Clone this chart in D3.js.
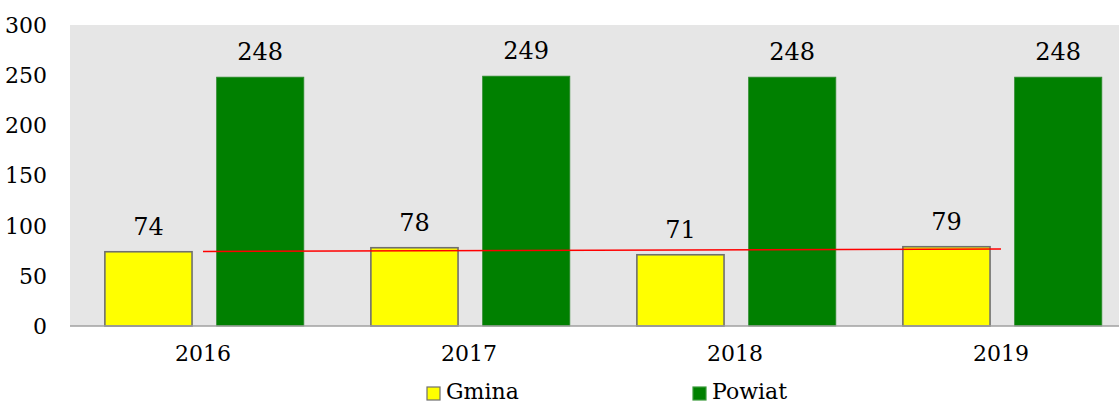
<!DOCTYPE html>
<html><head><meta charset="utf-8">
<script src="https://cdn.jsdelivr.net/npm/d3@7"></script>
<style>body{margin:0;background:#fff}svg{display:block}
svg text{font-family:"DejaVu Serif",serif}
</style>
</head><body>
<svg id="c" width="1119" height="405"></svg>
<script>
const years = ["2016","2017","2018","2019"];
const seriesNames = ["Gmina","Powiat"];
const gmina = [74,78,71,79];
const powiat = [248,249,248,248];
const yTicks = [0,50,100,150,200,250,300];

(function(){
const svg = d3.select("#c");
const pl = 70, pr = 1134, pt = 25, pb = 326;
const x = d3.scaleBand().domain(years).range([pl, pr]);
const y = d3.scaleLinear().domain([0,300]).range([pb, pt]);
const inner = d3.scaleBand().domain(seriesNames).range([0, x.bandwidth()]).paddingInner(0.22).paddingOuter(0.3).align(0.52);
const fills = {Gmina:"#ffff00", Powiat:"#008000"};
const strokes = {Gmina:"#6f6f6f", Powiat:"#2e8b2e"};

svg.append("rect").attr("x", pl).attr("y", pt).attr("width", pr-pl).attr("height", pb-pt).attr("fill","#e6e6e6");

const data = years.map((yr,i)=>({yr, Gmina:gmina[i], Powiat:powiat[i]}));
seriesNames.forEach(s=>{
  svg.append("g").selectAll("rect").data(data).join("rect")
    .attr("x", d=>x(d.yr)+inner(s)).attr("width", inner.bandwidth())
    .attr("y", d=>y(d[s])).attr("height", d=>y(0)-y(d[s]))
    .attr("fill", fills[s]).attr("stroke", strokes[s]).attr("stroke-width", s==="Gmina"?1.6:0.8);
  svg.append("g").selectAll("text").data(data).join("text")
    .attr("x", d=>x(d.yr)+inner(s)+inner.bandwidth()/2).attr("y", d=>y(d[s])-17)
    .attr("text-anchor","middle").attr("font-size",24).attr("fill","#000")
    .text(d=>d[s]);
});

svg.append("line").attr("x1",pl).attr("x2",pr).attr("y1",y(0)).attr("y2",y(0)).attr("stroke","#a0a0a0").attr("stroke-width",1.5);

const n = gmina.length, mx = (n-1)/2, my = d3.mean(gmina);
const slope = d3.sum(gmina.map((v,i)=>(i-mx)*(v-my)))/d3.sum(gmina.map((v,i)=>(i-mx)**2));
const trend = years.map((yr,i)=>[x(yr)+x.bandwidth()/2, y(my+slope*(i-mx))]);
svg.append("path").attr("d", d3.line()([trend[0], trend[n-1]])).attr("stroke","#ff0000").attr("stroke-width",1.5).attr("fill","none");

svg.append("g").selectAll("text").data(yTicks).join("text")
  .attr("x",47).attr("y",d=>y(d)).attr("dy","0.36em").attr("text-anchor","end")
  .attr("font-size",22).text(d=>d);

svg.append("g").selectAll("text").data(years).join("text")
  .attr("x",d=>x(d)+x.bandwidth()/2).attr("y",361).attr("text-anchor","middle")
  .attr("font-size",22).text(d=>d);

const legX = {Gmina:427, Powiat:693};
seriesNames.forEach(s=>{
  svg.append("rect").attr("x",legX[s]).attr("y",387).attr("width",13).attr("height",13)
    .attr("fill",fills[s]).attr("stroke", s==="Gmina"?"#6f6f6f":"#3a9a3a").attr("stroke-width",1.2);
  svg.append("text").attr("x",legX[s]+19).attr("y",399).attr("font-size",22).text(s);
});
})();
</script>
</body></html>
